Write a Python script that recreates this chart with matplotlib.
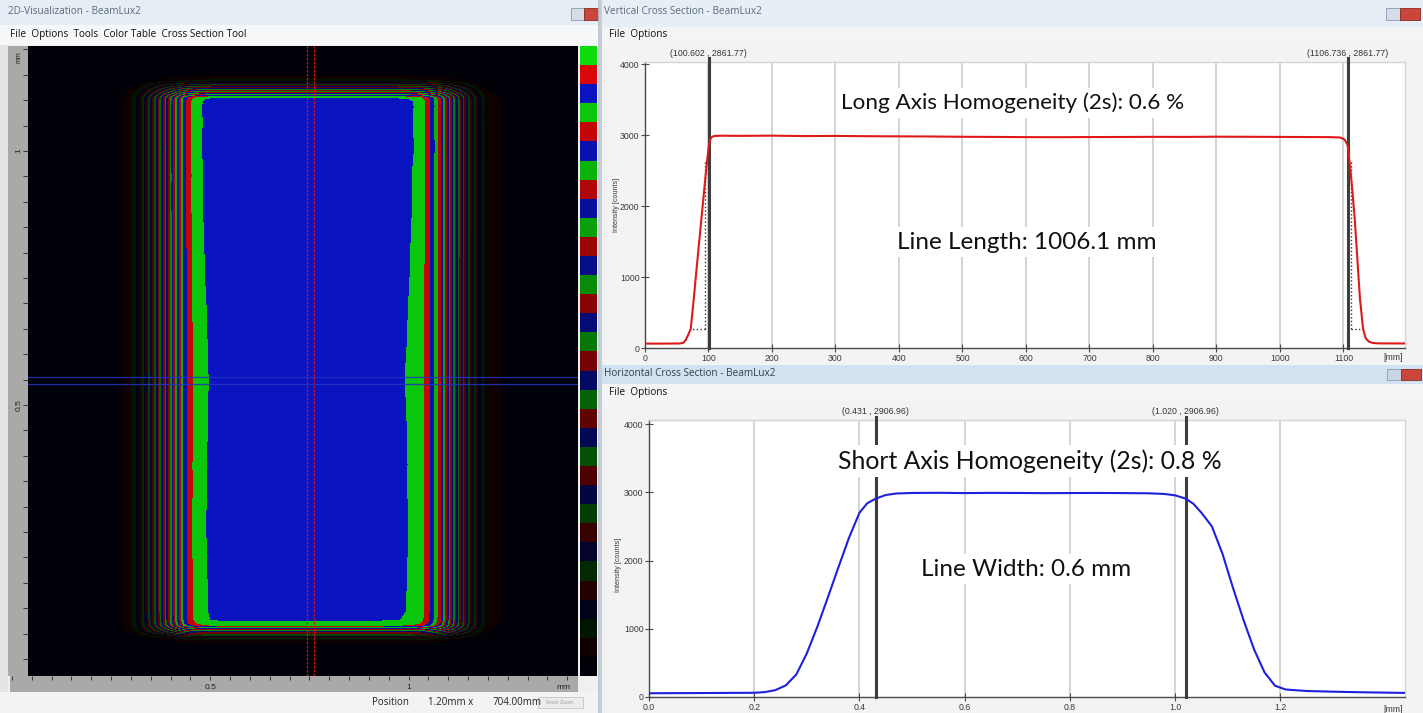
import numpy as np
import matplotlib
matplotlib.use("Agg")
import matplotlib.pyplot as plt
from matplotlib.patches import Rectangle
from matplotlib.colors import ListedColormap, BoundaryNorm

plt.rcParams['font.family'] = ['Liberation Sans', 'DejaVu Sans']

W, H, DPI = 1423, 713, 100

# ---------------- data ----------------
# long-axis (vertical) cross section, red curve
long_mm = [0, 30, 55, 60, 64, 68, 72, 76, 80, 85, 90, 95, 98, 100.6, 103, 106, 110, 120,
           150, 200, 250, 300, 350, 400, 450, 500, 550, 600, 650, 700, 750, 800, 850, 900,
           950, 1000, 1050, 1080, 1095, 1102, 1106.7, 1110, 1114, 1118, 1122, 1126, 1131,
           1135, 1140, 1146, 1155, 1200]
long_counts = [62, 62, 64, 72, 110, 185, 268, 620, 1000, 1470, 1930, 2390, 2660, 2862, 2950, 2982, 2992, 2995,
               2993, 2996, 2990, 2992, 2988, 2986, 2984, 2980, 2978, 2975, 2974, 2976, 2977, 2979, 2978, 2981,
               2980, 2978, 2976, 2975, 2970, 2940, 2862, 2600, 2230, 1800, 1250, 700, 268,
               140, 90, 72, 65, 64]

# short-axis (horizontal) cross section, blue curve
short_mm = [0.0, 0.10, 0.20, 0.22, 0.24, 0.26, 0.28, 0.30, 0.32, 0.34, 0.36, 0.38, 0.40, 0.415, 0.431,
            0.45, 0.47, 0.50, 0.55, 0.60, 0.65, 0.70, 0.75, 0.80, 0.85, 0.90, 0.95, 0.98, 1.00, 1.020,
            1.035, 1.05, 1.07, 1.09, 1.11, 1.13, 1.15, 1.17, 1.19, 1.21, 1.25, 1.30, 1.35, 1.40, 1.437]
short_counts = [55, 58, 62, 72, 100, 170, 330, 640, 1030, 1460, 1900, 2330, 2700, 2840, 2907,
                2960, 2982, 2990, 2992, 2988, 2991, 2990, 2987, 2989, 2990, 2988, 2985, 2975, 2955, 2907,
                2830, 2700, 2500, 2100, 1600, 1130, 700, 360, 165, 110, 88, 78, 70, 64, 60]

long_markers = [100.602, 1106.736]
long_marker_labels = ["(100.602 , 2861.77)", "(1106.736 , 2861.77)"]
short_markers = [0.431, 1.020]
short_marker_labels = ["(0.431 , 2906.96)", "(1.020 , 2906.96)"]

# dotted helper lines on the long-axis plot: (x_vertical, x_curve) at the 10 % level
long_helper_level = 268
long_helper_top = 2650
long_helpers = [(95, 72), (1112, 1131)]

long_ticks = [0, 100, 200, 300, 400, 500, 600, 700, 800, 900, 1000, 1100]
short_ticks = [0.0, 0.2, 0.4, 0.6, 0.8, 1.0, 1.2]
short_tick_labels = ["0.0", "0.2", "0.4", "0.6", "0.8", "1.0", "1.2"]
y_ticks = [0, 1000, 2000, 3000, 4000]

long_title = "Long Axis Homogeneity (2s): 0.6 %"
long_sub = "Line Length: 1006.1 mm"
short_title = "Short Axis Homogeneity (2s): 0.8 %"
short_sub = "Line Width: 0.6 mm"

# colour table of the 2-D view
n_bands = 33
band_max = 3250

# rulers of the 2-D view
ruler_x_labels = [0.5, 1.0]
ruler_x_text = ["0.5", "1"]
ruler_y_labels = [0.5, 1.0]
ruler_y_text = ["0.5", "1"]

# cross-hair position in the 2-D view (mm)
cross_x = [0.721, 0.740]
cross_y = [634, 648]

# ---------------- figure ----------------
fig = plt.figure(figsize=(W / DPI, H / DPI), dpi=DPI)
fig.patch.set_facecolor('#f0f0f0')
bg = fig.add_axes([0, 0, 1, 1])
bg.set_xlim(0, W)
bg.set_ylim(H, 0)
bg.axis('off')

UI = ['Open Sans', 'DejaVu Sans']


def rect(x0, y0, x1, y1, fc, ec='none', lw=0, z=1):
    bg.add_patch(Rectangle((x0, y0), x1 - x0, y1 - y0, facecolor=fc, edgecolor=ec, lw=lw, zorder=z))


def px_axes(x0, y0, x1, y1):
    return fig.add_axes([x0 / W, 1 - y1 / H, (x1 - x0) / W, (y1 - y0) / H])


# ---- left window chrome ----
rect(0, 0, 599, 25, '#e6edf5')
bg.text(8, 12, "2D-Visualization - BeamLux2", fontsize=7.2, color='#5b6b7c', va='center', family=UI)
rect(0, 25, 599, 45, '#f6f7f8')
bg.text(10, 35, "File  Options  Tools  Color Table  Cross Section Tool", fontsize=7.2, color='#111111',
        va='center', family=UI)
rect(0, 45, 8, 692, '#e4e4e4')
rect(0, 692, 599, 713, '#f3f3f3')
bg.text(372, 702.5, "Position", fontsize=7, color='#222222', va='center', family=UI)
bg.text(428, 702.5, "1.20mm x", fontsize=7, color='#222222', va='center', family=UI)
bg.text(493, 702.5, "704.00mm", fontsize=7, color='#222222', va='center', family=UI)
rect(538, 697, 583, 708, '#ececec', '#c6c6c6', 0.6, z=2)
bg.text(560, 702.5, "Reset Zoom", fontsize=3.6, color='#9a9a9a', ha='center', va='center', family=UI, zorder=3)
rect(571, 8, 584, 20, '#d4dde8', '#8d9aab', 0.6, z=2)
rect(584, 8, 598, 20, '#c8463a', '#8a2a22', 0.6, z=2)
bg.plot([598.5, 598.5], [0, 713], color='#b8c2cc', lw=1.2)

# ---- top-right window chrome ----
rect(600, 0, 1423, 27, '#e8eef5')
bg.text(604, 12, "Vertical Cross Section - BeamLux2", fontsize=7.2, color='#5b6b7c', va='center', family=UI)
rect(600, 27, 1423, 45, '#f3f4f5')
bg.text(609, 35, "File  Options", fontsize=7.2, color='#111111', va='center', family=UI)
rect(600, 45, 1423, 365, '#f3f3f3')
rect(1386, 8, 1400, 20, '#d4dde8', '#8d9aab', 0.6, z=2)
rect(1400, 8, 1420, 20, '#c8463a', '#8a2a22', 0.6, z=2)

# ---- bottom-right window chrome ----
rect(600, 365, 1423, 384, '#d3e2f1')
bg.text(604, 374, "Horizontal Cross Section - BeamLux2", fontsize=7.2, color='#33404d', va='center', family=UI)
rect(600, 384, 1423, 402, '#f3f4f5')
bg.text(609, 393, "File  Options", fontsize=7.2, color='#111111', va='center', family=UI)
rect(600, 402, 1423, 713, '#f3f3f3')
rect(1387, 369, 1401, 380, '#c8d6e6', '#8d9aab', 0.6, z=2)
rect(1401, 369, 1421, 380, '#c8463a', '#8a2a22', 0.6, z=2)
bg.plot([601, 601], [0, 713], color='#c3ced9', lw=1.5)


# ---- cross-section plots ----
def style(ax, ticks, labels):
    ax.set_facecolor('white')
    for s in ['top', 'right']:
        ax.spines[s].set_color('#d4d4d4')
        ax.spines[s].set_linewidth(1.0)
    for s in ['left', 'bottom']:
        ax.spines[s].set_color('#4a4a4a')
        ax.spines[s].set_linewidth(1.0)
    ax.set_xticks(ticks)
    ax.set_xticklabels(labels)
    ax.set_yticks(y_ticks)
    ax.tick_params(direction='inout', length=6, width=0.8, color='#4a4a4a', labelsize=6.3,
                   labelcolor='#3a3a3a', pad=1)
    ax.grid(axis='x', color='#c9c9c9', lw=1.1)
    ax.set_axisbelow(True)


axT = px_axes(645, 62, 1405, 348)
axT.plot(long_mm, long_counts, color='#e01818', lw=1.5, zorder=4)
axT.set_xlim(0, 1197)
axT.set_ylim(0, 4035)
style(axT, long_ticks, [str(t) for t in long_ticks])
for xm in long_markers:
    axT.axvline(xm, ymin=0, ymax=1.015, color='#3d3d3d', lw=2.2, clip_on=False, zorder=3)
for xv, xc in long_helpers:
    axT.plot([xv, xv], [long_helper_level, long_helper_top], ls=':', color='#303030', lw=1.0, zorder=3)
    axT.plot([xv, xc], [long_helper_level, long_helper_level], ls=':', color='#303030', lw=1.0, zorder=3)
for xm, lab in zip(long_markers, long_marker_labels):
    axT.annotate(lab, (xm, 1.0), xycoords=('data', 'axes fraction'), xytext=(0, 3),
                 textcoords='offset points', ha='center', va='bottom', fontsize=6.3, color='#333333',
                 annotation_clip=False)

axB = px_axes(649, 420, 1405, 697)
axB.plot(short_mm, short_counts, color='#1f1fe0', lw=1.5, zorder=4)
axB.set_xlim(0, 1.437)
axB.set_ylim(0, 4059)
style(axB, short_ticks, short_tick_labels)
for xm in short_markers:
    axB.axvline(xm, ymin=0, ymax=1.01, color='#3d3d3d', lw=2.2, clip_on=False, zorder=3)
for xm, lab in zip(short_markers, short_marker_labels):
    axB.annotate(lab, (xm, 1.0), xycoords=('data', 'axes fraction'), xytext=(0, 3),
                 textcoords='offset points', ha='center', va='bottom', fontsize=6.3, color='#333333',
                 annotation_clip=False)

bg.text(1393, 357, "[mm]", fontsize=6.3, color='#3a3a3a', ha='center', va='center')
bg.text(1393, 709, "[mm]", fontsize=6.3, color='#3a3a3a', ha='center', va='center')
bg.text(616, 205, "Intensity [counts]", fontsize=5.2, color='#3a3a3a', rotation=90, ha='center', va='center')
bg.text(618, 565, "Intensity [counts]", fontsize=5.2, color='#3a3a3a', rotation=90, ha='center', va='center')

# ---- overlaid annotations ----
OV = ['Lato', 'DejaVu Sans']
box = dict(facecolor='white', edgecolor='none', pad=3)
fig.text(1013 / W, 1 - 103 / H, long_title, ha='center', va='center', fontsize=16.2, family=OV,
         color='#111111', bbox=box)
fig.text(1026.5 / W, 1 - 242 / H, long_sub, ha='center', va='center', fontsize=17.5, family=OV,
         color='#111111', bbox=box)
fig.text(1030 / W, 1 - 461 / H, short_title, ha='center', va='center', fontsize=17.8, family=OV,
         color='#111111', bbox=box)
fig.text(1026 / W, 1 - 569 / H, short_sub, ha='center', va='center', fontsize=17.5, family=OV,
         color='#111111', bbox=box)

# ---- 2-D view ----
x_lim2d = (-0.005, 1.427)
y_lim2d = (6, 1201)
G = np.array([0.05, 0.86, 0.05])
R = np.array([0.88, 0.03, 0.03])
B = np.array([0.04, 0.08, 0.80])
base = [G, R, B]
band_colors = []
for i in range(n_bands):
    b = 0.04 + 0.96 * (i / (n_bands - 1))
    band_colors.append(tuple(np.clip(base[(n_bands - 1 - i) % 3] * b, 0, 1)))
cmap = ListedColormap(band_colors)
levels = np.linspace(0, band_max, n_bands + 1)
norm = BoundaryNorm(levels, n_bands)

xx = np.linspace(x_lim2d[0], x_lim2d[1], 550)
yy = np.linspace(y_lim2d[0], y_lim2d[1], 630)
img = np.outer(np.interp(yy, long_mm, long_counts), np.interp(xx, short_mm, short_counts)) / max(long_counts)

axI = px_axes(28, 46, 578, 676)
axI.imshow(img, cmap=cmap, norm=norm, origin='upper', aspect='auto', interpolation='nearest',
           extent=(x_lim2d[0], x_lim2d[1], y_lim2d[1], y_lim2d[0]))
axI.set_xlim(*x_lim2d)
axI.set_ylim(y_lim2d[1], y_lim2d[0])
for cx in cross_x:
    axI.axvline(cx, color='#e01010', lw=0.9, ls=(0, (2, 1.2)))
for cy in cross_y:
    axI.axhline(cy, color='#2233bb', lw=0.9, alpha=0.9)
axI.axis('off')

axC = px_axes(580, 46, 597, 676)
axC.imshow(np.arange(n_bands)[::-1].reshape(-1, 1), cmap=cmap,
           norm=BoundaryNorm(np.arange(n_bands + 1) - 0.5, n_bands),
           aspect='auto', interpolation='nearest')
axC.axis('off')

# rulers
axRy = px_axes(8, 46, 28, 676)
axRy.set_facecolor('#a9a9a9')
axRy.set_ylim(-0.0335, 1.2067)
axRy.set_xlim(0, 1)
axRy.set_yticks(np.arange(0, 1.2001, 0.05))
axRy.yaxis.tick_right()
axRy.tick_params(axis='y', direction='in', length=3.5, width=0.7, color='#333333', labelright=False)
axRy.set_xticks([])
for s in axRy.spines.values():
    s.set_visible(False)
for v, t in zip(ruler_y_labels, ruler_y_text):
    axRy.text(0.55, v, t, rotation=90, fontsize=6, color='#222222', ha='center', va='center')
axRy.text(0.55, 1.185, "mm", rotation=90, fontsize=5, color='#222222', ha='center', va='center')

axRx = px_axes(10, 676, 578, 692)
axRx.set_facecolor('#a9a9a9')
axRx.set_xlim(*x_lim2d)
axRx.set_ylim(0, 1)
axRx.set_xticks(np.arange(0, 1.4001, 0.05))
axRx.xaxis.tick_top()
axRx.tick_params(axis='x', direction='in', length=3, width=0.7, color='#333333', labeltop=False)
axRx.set_yticks([])
for s in axRx.spines.values():
    s.set_visible(False)
for v, t in zip(ruler_x_labels, ruler_x_text):
    axRx.text(v, 0.3, t, fontsize=6, color='#222222', ha='center', va='center')
axRx.text(1.39, 0.3, "mm", fontsize=6, color='#222222', ha='center', va='center')

fig.savefig('out.png', dpi=DPI, facecolor=fig.get_facecolor())
